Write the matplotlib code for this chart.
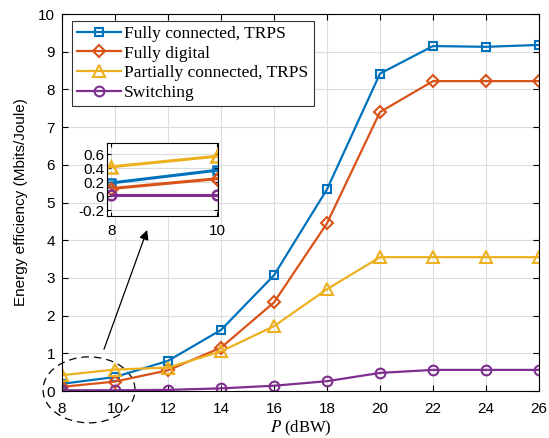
import numpy as np
import matplotlib.pyplot as plt
from matplotlib.patches import Ellipse

# data
P_dbw = [8, 10, 12, 14, 16, 18, 20, 22, 24, 26]
ee_fully_conn = [0.19, 0.37, 0.80, 1.62, 3.07, 5.35, 8.42, 9.15, 9.13, 9.18]
ee_fully_digital = [0.11, 0.25, 0.55, 1.15, 2.35, 4.45, 7.40, 8.22, 8.22, 8.22]
ee_partial_conn = [0.42, 0.57, 0.62, 1.05, 1.72, 2.70, 3.55, 3.55, 3.55, 3.55]
ee_switching = [0.02, 0.02, 0.03, 0.07, 0.14, 0.26, 0.48, 0.56, 0.56, 0.56]

labels = ['Fully connected, TRPS', 'Fully digital',
          'Partially connected, TRPS', 'Switching']
colors = ['#0072BD', '#D95319', '#EDB120', '#7E2F8E']
markers = ['s', 'D', '^', 'o']
msizes = [6, 6, 8, 7]
series = [ee_fully_conn, ee_fully_digital, ee_partial_conn, ee_switching]

plt.rcParams['font.family'] = 'Liberation Sans'
plt.rcParams['mathtext.fontset'] = 'stix'

fig = plt.figure(figsize=(5.49, 4.38), dpi=100)
ax = fig.add_axes([0.1129, 0.1073, 0.8689, 0.8607])

for y, lab, c, m, ms in zip(series, labels, colors, markers, msizes):
    ax.plot(P_dbw, y, color=c, marker=m, ms=ms, mfc='none', mew=1.5,
            lw=1.6, label=lab)

ax.set_xlim(8, 26)
ax.set_ylim(0, 10)
ax.set_xticks(np.arange(8, 27, 2))
ax.set_yticks(np.arange(0, 11, 1))
ax.grid(True, color='#dcdcdc', lw=0.8)
ax.set_axisbelow(True)
ax.tick_params(labelsize=11, direction='in', length=4, top=True, right=True)
ax.tick_params(axis='x', pad=8)
ax.tick_params(axis='y', pad=5)
for s in ax.spines.values():
    s.set_linewidth(0.8)
ax.set_xlabel('$P$ (dBW)', fontsize=12, family='Liberation Serif', labelpad=2)
ax.set_ylabel('Energy efficiency (Mbits/Joule)', fontsize=11, labelpad=7)

leg = ax.legend(loc='upper left', bbox_to_anchor=(10 / 477, 1 - 6.5 / 377),
                prop={'family': 'Liberation Serif', 'size': 12.5},
                fancybox=False, edgecolor='#333333', framealpha=1,
                borderpad=0.3, labelspacing=0.2, handlelength=2.5,
                handletextpad=0.2, borderaxespad=0)
leg.get_frame().set_linewidth(0.8)

# dashed ellipse around the low-power region and arrow to the inset
ell = Ellipse((9.02, 0.03), 3.47, 1.75, fill=False, ls=(0, (6, 4)),
              lw=0.9, color='black', clip_on=False)
ax.add_patch(ell)
ax.annotate('', xy=(11.25, 4.34), xytext=(9.55, 1.04),
            arrowprops=dict(arrowstyle='-|>', color='black', lw=0.9,
                            mutation_scale=14))

# inset zoom on the first two points
ins = fig.add_axes([0.195, 0.507, 0.202, 0.1667])
for y, c, m, ms in zip(series, colors, markers, msizes):
    ins.plot(P_dbw[:2], y[:2], color=c, marker=m, ms=ms, mfc='none',
             mew=1.8, lw=2.2)
ins.set_xlim(7.92, 10.02)
ins.set_ylim(-0.28, 0.76)
ins.set_xticks([8, 10])
ins.set_yticks([-0.2, 0, 0.2, 0.4, 0.6])
ins.set_yticklabels(['-0.2', '0', '0.2', '0.4', '0.6'])
ins.grid(True, color='#dcdcdc', lw=0.8)
ins.set_axisbelow(True)
ins.tick_params(labelsize=11, direction='in', length=3, top=True, right=True,
                pad=2)
ins.tick_params(axis='x', pad=6)
for s in ins.spines.values():
    s.set_linewidth(0.8)

fig.savefig('out.png', dpi=100)
